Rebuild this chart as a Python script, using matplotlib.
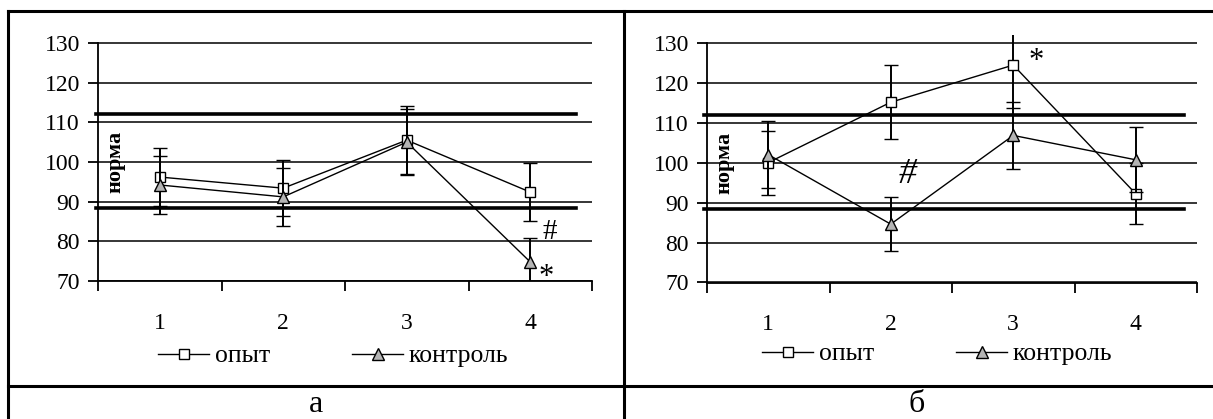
import matplotlib
matplotlib.use("Agg")
import matplotlib.pyplot as plt
from matplotlib.lines import Line2D

plt.rcParams['font.family'] = ['Liberation Serif', 'DejaVu Serif']

# data
categories = [1, 2, 3, 4]
series_names = ["опыт", "контроль"]

a_opyt = [96.2, 93.4, 105.5, 92.4]
a_opyt_err = [7.4, 7.1, 8.5, 7.4]
a_kontrol = [94.2, 91.2, 105.0, 74.8]
a_kontrol_err = [7.3, 7.3, 8.3, 6.0]

b_opyt = [100.0, 115.1, 124.4, 92.2]
b_opyt_err = [8.0, 9.3, 10.8, 7.6]
b_kontrol = [102.0, 84.6, 106.8, 100.7]
b_kontrol_err = [8.3, 6.7, 8.4, 8.1]

norm_low, norm_high = 88.5, 112.0
y_ticks = [70, 80, 90, 100, 110, 120, 130]

a_marks = [(4.16, 82.3, "#"), (4.13, 70.8, "*")]
b_marks = [(2.14, 97.0, "#"), (3.19, 125.3, "*")]
panel_labels = ["а", "б"]

W, H = 1213, 419
fig = plt.figure(figsize=(W / 100, H / 100), dpi=100)


def px_axes(x0, x1, y_top, y_bot):
    return fig.add_axes([x0 / W, 1 - y_bot / H, (x1 - x0) / W, (y_bot - y_top) / H])


def draw_panel(ax, opyt, opyt_err, kontrol, kontrol_err, marks, norm_span, leg_center, italic_hash):
    ax.set_xlim(0.5, 4.5)
    ax.set_ylim(70, 132)
    for v in (norm_low, norm_high):
        ax.axhline(v, xmin=norm_span[0], xmax=norm_span[1], color='black', lw=2.6,
                   clip_on=False, zorder=2)
    ax.yaxis.grid(True, color='black', lw=1.1)
    ax.set_axisbelow(True)

    c1 = ax.errorbar(categories, opyt, yerr=opyt_err, color='black', lw=1.0, elinewidth=1.4,
                     capsize=4.7, capthick=1.4, marker='s', markersize=7.5, mfc='white',
                     mec='black', mew=1.0, zorder=3)
    c2 = ax.errorbar(categories, kontrol, yerr=kontrol_err, color='black', lw=1.0, elinewidth=1.4,
                     capsize=4.7, capthick=1.4, marker='^', markersize=9, mfc='#b4b4b4',
                     mec='black', mew=1.0, zorder=4)

    for x, y, t in marks:
        style = 'italic' if (t == "#" and italic_hash) else 'normal'
        if t == "#":
            size = 26 if italic_hash else 21
        else:
            size = 22
        ax.text(x, y, t, fontsize=size, style=style, ha='center', va='center')

    ax.text(0.64, 100, "норма", rotation=90, fontsize=16, fontweight='bold',
            ha='center', va='center')

    for s in ('top', 'right'):
        ax.spines[s].set_visible(False)
    ax.spines['left'].set_bounds(70, 130)
    ax.spines['left'].set_linewidth(1.3)
    ax.spines['bottom'].set_linewidth(1.3)

    ax.set_yticks(y_ticks)
    ax.tick_params(axis='y', length=7, width=1.3, pad=6, labelsize=17)
    ax.set_xticks([0.5, 1.5, 2.5, 3.5, 4.5])
    ax.set_xticklabels([])
    ax.tick_params(axis='x', which='major', length=7, width=1.3, direction='out')
    ax.set_xticks(categories, minor=True)
    ax.set_xticklabels([str(c) for c in categories], minor=True)
    ax.tick_params(axis='x', which='minor', length=0, pad=23, labelsize=17)

    ax.legend([c1[0], c2[0]], series_names, loc='center',
              bbox_to_anchor=(leg_center[0] / W, 1 - leg_center[1] / H),
              bbox_transform=fig.transFigure, ncol=2, frameon=False, fontsize=18.5,
              handlelength=2.0, handletextpad=0.2, columnspacing=3.2)


ax_a = px_axes(98, 592, 35.0, 281)
draw_panel(ax_a, a_opyt, a_opyt_err, a_kontrol, a_kontrol_err, a_marks,
           (-0.004, 0.968), (333, 356), False)

ax_b = px_axes(707, 1197, 34.7, 282.5)
draw_panel(ax_b, b_opyt, b_opyt_err, b_kontrol, b_kontrol_err, b_marks,
           (-0.006, 0.973), (937, 354), True)

# table frame around the two panels
lw_frame = 2.2
fig.add_artist(Line2D([8 / W, 1], [1 - 11 / H] * 2, color='black', lw=lw_frame))
fig.add_artist(Line2D([8 / W, 1], [1 - 386 / H] * 2, color='black', lw=lw_frame))
fig.add_artist(Line2D([8 / W] * 2, [0, 1 - 11 / H], color='black', lw=lw_frame))
fig.add_artist(Line2D([624 / W] * 2, [0, 1 - 11 / H], color='black', lw=lw_frame))

fig.text(316 / W, 1 - 404 / H, panel_labels[0], fontsize=23, ha='center', va='center')
fig.text(917 / W, 1 - 404 / H, panel_labels[1], fontsize=23, ha='center', va='center')

fig.savefig("out.png", dpi=100)
